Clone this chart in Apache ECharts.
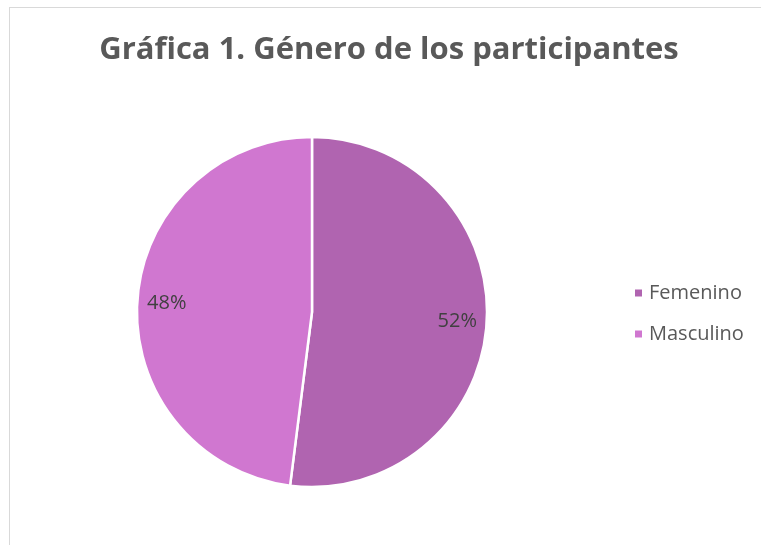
<!DOCTYPE html>
<html>
<head>
<meta charset="utf-8">
<script src="https://cdn.jsdelivr.net/npm/echarts@6/dist/echarts.min.js"></script>
<style>
  html, body { margin: 0; padding: 0; background: #fff; overflow: hidden; }
  #frame { position: absolute; left: 9px; top: 7px; width: 800px; height: 600px; border: 1.5px solid #d9d9d9; box-sizing: border-box; }
  #chart { width: 761px; height: 545px; position: absolute; left: 0; top: 0; }
</style>
</head>
<body>
<div id="frame"></div>
<div id="chart"></div>
<script>
const categorias = ['Femenino', 'Masculino'];
const valores = [52, 48];
const colores = ['#b064b0', '#d077d0'];

function renderGraficoGenero() {
    const chartDom = document.getElementById('chart');
    const myChart = echarts.init(chartDom);
    const datos = categorias.map((c, i) => ({ name: c, value: valores[i], itemStyle: { color: colores[i] } }));
    const option = {
        title: {
            text: 'Gráfica 1. Género de los participantes',
            left: 384,
            top: 30,
            textAlign: 'center',
            textStyle: { fontFamily: 'Open Sans', fontWeight: 'bold', fontSize: 31, color: '#595959' }
        },
        legend: {
            orient: 'vertical',
            left: 628,
            top: 278,
            itemWidth: 9,
            itemHeight: 9,
            itemGap: 21,
            icon: 'rect',
            data: categorias,
            textStyle: { fontFamily: 'Open Sans', fontSize: 20, color: '#595959', padding: [0, 0, 0, 1] }
        },
        series: [
            {
                name: 'Género',
                type: 'pie',
                center: [312, 312],
                radius: 175,
                startAngle: 90,
                clockwise: true,
                label: { show: false },
                labelLine: { show: false },
                itemStyle: { borderColor: '#fff', borderWidth: 2.5 },
                emphasis: { disabled: true },
                data: datos
            },
            {
                // anillo transparente para colocar las etiquetas cerca del borde
                name: 'Etiquetas',
                type: 'pie',
                center: [312, 312],
                radius: [110, 175],
                startAngle: 90,
                clockwise: true,
                silent: true,
                itemStyle: { color: 'transparent', borderWidth: 0 },
                label: {
                    show: true,
                    position: 'inside',
                    formatter: '{c}%',
                    fontFamily: 'Open Sans',
                    fontSize: 20,
                    color: '#404040'
                },
                labelLine: { show: false },
                emphasis: { disabled: true },
                data: categorias.map((c, i) => ({ name: c, value: valores[i] }))
            }
        ]
    };
    myChart.setOption(option);
}

renderGraficoGenero();
</script>
</body>
</html>
